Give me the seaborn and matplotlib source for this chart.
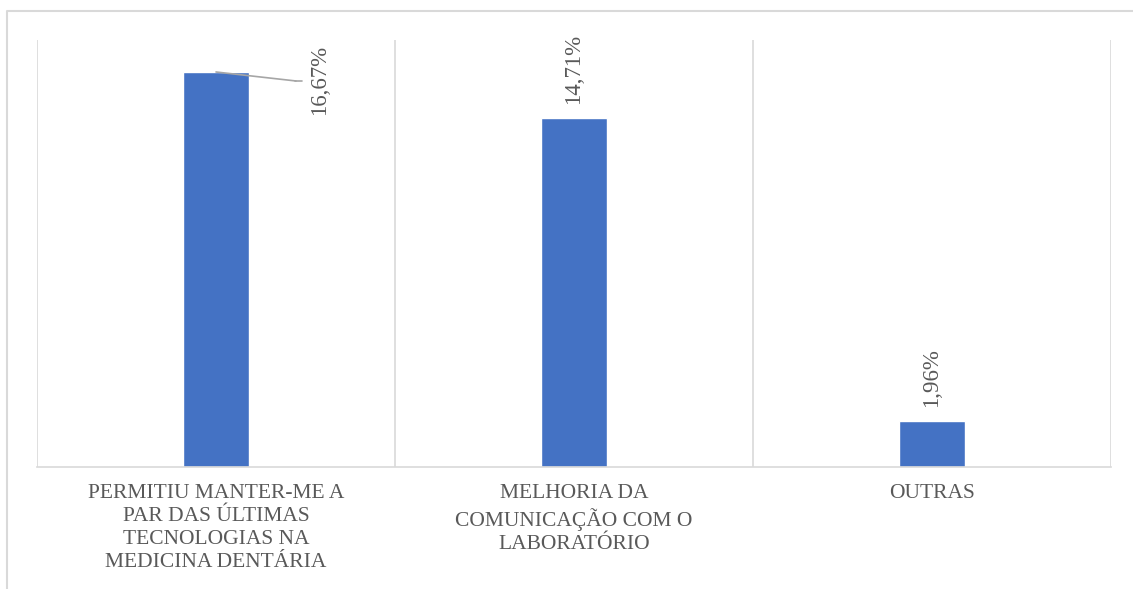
import matplotlib
matplotlib.use("Agg")
import matplotlib.pyplot as plt
import seaborn as sns
import pandas as pd
from matplotlib.lines import Line2D

categories = [
    "PERMITIU MANTER-ME A\nPAR DAS ÚLTIMAS\nTECNOLOGIAS NA\nMEDICINA DENTÁRIA",
    "MELHORIA DA\nCOMUNICAÇÃO COM O\nLABORATÓRIO",
    "OUTRAS",
]
values = [16.67, 14.71, 1.96]
labels = ["16,67%", "14,71%", "1,96%"]

BAR = "#4472C4"
GRID = "#D9D9D9"
TEXT = "#595959"
LEADER = "#A6A6A6"

sns.set_style("white")
plt.rcParams["font.family"] = ["Liberation Serif", "DejaVu Serif"]

df = pd.DataFrame({"cat": categories, "val": values})

fig = plt.figure(figsize=(11.33, 5.89), dpi=100)
ax = fig.add_axes([37 / 1133, 1 - 467 / 589, (1111 - 37) / 1133, (467 - 40) / 589])
sns.barplot(data=df, x="cat", y="val", color=BAR, width=0.185, saturation=1, ax=ax)

ax.set_ylim(0, 18.02)
ax.set_xlim(-0.5, len(categories) - 0.5)
ax.set_xlabel("")
ax.set_ylabel("")
ax.set_yticks([])
for s in ["top", "right", "left"]:
    ax.spines[s].set_visible(False)
ax.spines["bottom"].set_color(GRID)
ax.spines["bottom"].set_linewidth(1.2)

# category separators
for x in [i - 0.5 for i in range(len(categories) + 1)]:
    ax.axvline(x, color=GRID, lw=1.2, zorder=0)

ax.tick_params(axis="x", length=0, pad=12)
for t in ax.get_xticklabels():
    t.set_fontsize(15.5)
    t.set_color(TEXT)
    t.set_linespacing(1.3)

# data labels
for i, (v, lab) in enumerate(zip(values, labels)):
    if i == 0:
        # first label is pushed aside with a leader line
        ax.annotate(lab, xy=(i, v), xytext=(93, -43), textcoords="offset pixels",
                    rotation=90, ha="left", va="bottom", fontsize=16.5, color=TEXT)
        ax.annotate("", xy=(i, v), xytext=(80, -9), textcoords="offset pixels",
                    arrowprops=dict(arrowstyle="-", color=LEADER, lw=1.2,
                                    shrinkA=0, shrinkB=0))
    else:
        ax.annotate(lab, xy=(i, v), xytext=(0, 14), textcoords="offset pixels",
                    rotation=90, ha="center", va="bottom", fontsize=16.5, color=TEXT)

# short horizontal piece of the leader line
x0, y0 = ax.transData.transform((0, values[0]))
fig.add_artist(Line2D([(x0 + 79) / 1133, (x0 + 86) / 1133],
                      [(y0 - 9) / 589, (y0 - 9) / 589],
                      transform=fig.transFigure, color=LEADER, lw=1.2))

# outer chart frame (cropped)
fig.add_artist(Line2D([7 / 1133, 7 / 1133, 1.0], [0.0, 1 - 11 / 589, 1 - 11 / 589],
                      transform=fig.transFigure, color=GRID, lw=1.5))

fig.savefig("out.png", dpi=100)
